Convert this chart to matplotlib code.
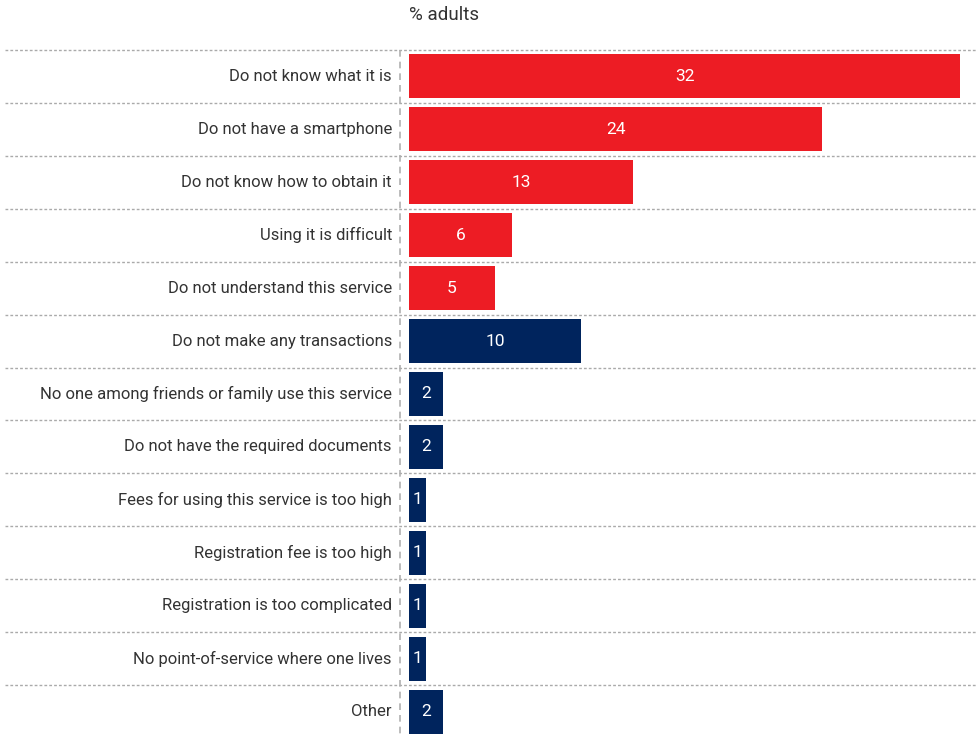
import matplotlib
matplotlib.use("Agg")
import matplotlib.pyplot as plt
import matplotlib.transforms as mtransforms

categories = [
    "Do not know what it is",
    "Do not have a smartphone",
    "Do not know how to obtain it",
    "Using it is difficult",
    "Do not understand this service",
    "Do not make any transactions",
    "No one among friends or family use this service",
    "Do not have the required documents",
    "Fees for using this service is too high",
    "Registration fee is too high",
    "Registration is too complicated",
    "No point-of-service where one lives",
    "Other",
]
values = [32, 24, 13, 6, 5, 10, 2, 2, 1, 1, 1, 1, 2]
groups = ["red"] * 5 + ["navy"] * 8
title = "% adults"

colors = {"red": "#ED1C24", "navy": "#00245D"}
FONT = ["Roboto", "DejaVu Sans"]
plt.rcParams["font.family"] = FONT

W, H = 978, 738
fig = plt.figure(figsize=(W / 100, H / 100), dpi=100)
left_px, top_px = 409, 50
ax = fig.add_axes([left_px / W, 0, (W - left_px) / W, 1 - top_px / H])

n = len(categories)
ypos = list(range(n))
ax.barh(ypos, values, height=0.83, color=[colors[g] for g in groups], zorder=2)
ax.set_ylim(n - 0.5, -0.5)
ax.set_xlim(0, (W - left_px) / 17.22)
ax.axis("off")

trans = mtransforms.blended_transform_factory(ax.transAxes, ax.transData)
x0 = (5 - left_px) / (W - left_px)
for k in range(n):
    ax.plot([x0, 1], [k - 0.5, k - 0.5], transform=trans, color="#AAAAAA",
            lw=1.0, ls=(0, (2, 1.5)), clip_on=False, zorder=1)

vx = (400 - left_px) / (W - left_px)
ax.plot([vx, vx], [-0.5, n - 0.5], transform=trans, color="#B0B0B0",
        lw=1.2, ls=(0, (4, 3)), clip_on=False, zorder=1)

lx = (392 - left_px) / (W - left_px)
for i, (c, v) in enumerate(zip(categories, values)):
    ax.text(lx, i, c, transform=trans, ha="right", va="center",
            fontsize=12.0, color="#333333", family=FONT)
    ax.text(v / 2, i, str(v), ha="center", va="center", fontsize=12.5,
            color="white", family=FONT, zorder=3)

fig.text(409 / W, 1 - 15 / H, title, ha="left", va="center",
         fontsize=13.5, color="#333333", family=FONT)

fig.savefig("out.png", dpi=100)
